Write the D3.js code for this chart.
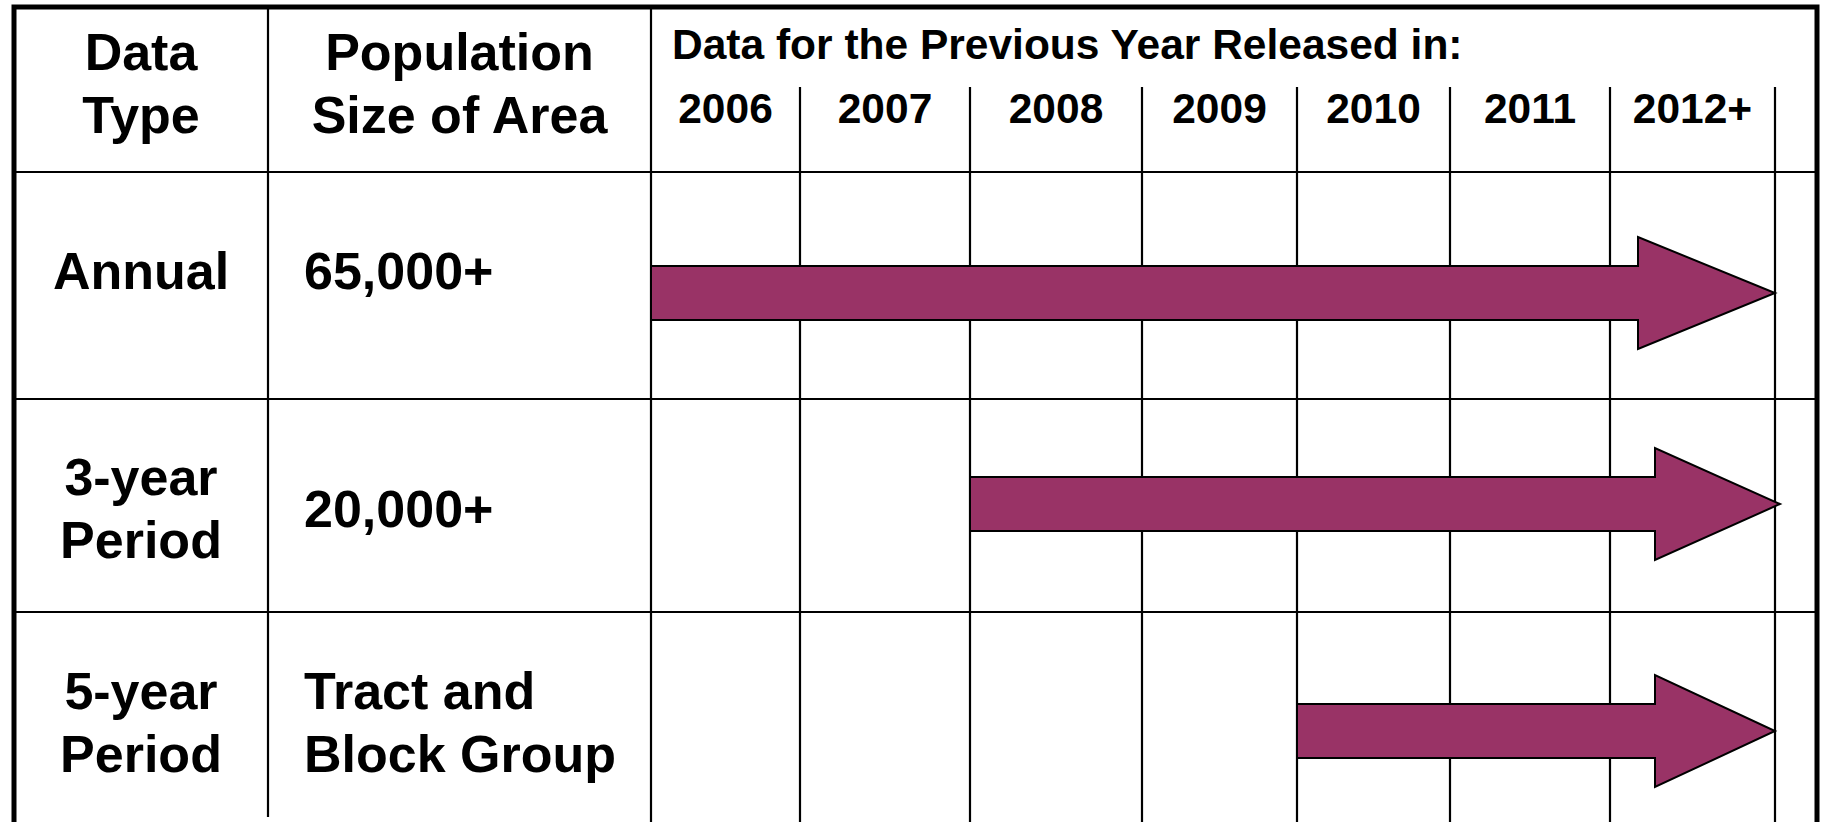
<!DOCTYPE html>
<html>
<head>
<meta charset="utf-8">
<script src="https://cdn.jsdelivr.net/npm/d3@7"></script>
<style>
  body { margin: 0; background: #fff; }
  text { font-family: "Liberation Sans", Arial, sans-serif; font-weight: bold; fill: #000; }
</style>
</head>
<body>
<div id="chart"></div>
<script>
const width = 1822;
const height = 822;

// data
const dataTypes = [["Annual"], ["3-year", "Period"], ["5-year", "Period"]];
const areaSizes = [["65,000+"], ["20,000+"], ["Tract and", "Block Group"]];
const years = ["2006", "2007", "2008", "2009", "2010", "2011", "2012+"];
const firstYear = ["2006", "2008", "2010"];
const headTitle = "Data for the Previous Year Released in:";
const headType = ["Data", "Type"];
const headSize = ["Population", "Size of Area"];

// layout
const leftX = 14, rightX = 1817, topY = 7;
const col1 = 268, col2 = 651;
const colEdges = [651, 800, 970, 1142, 1297, 1450, 1610, 1775];
const rowEdges = [172, 399, 612, 826];
const textShift = [-15.5, 2.5, 3];
const arrowShift = [7.5, -1.5, 12];
const tipShift = [0, 5, 0];
const headLen = [137, 125, 120];
const fs = 52, lh = 63, cap = 0.716 * fs;

const x = d3.scaleLinear().domain(d3.range(years.length + 1)).range(colEdges);
const y = d3.scaleLinear().domain(d3.range(rowEdges.length)).range(rowEdges);

const svg = d3.select("#chart")
  .append("svg")
  .attr("width", width)
  .attr("height", height);

const grid = svg.append("g").attr("stroke", "#000").attr("stroke-width", 2.2);

// horizontal row lines
grid.selectAll("line.row")
  .data(d3.range(rowEdges.length - 1))
  .enter()
  .append("line")
  .attr("x1", leftX).attr("x2", rightX)
  .attr("y1", d => y(d)).attr("y2", d => y(d));

// first two column lines
grid.selectAll("line.col")
  .data([col1, col2])
  .enter()
  .append("line")
  .attr("x1", d => d).attr("x2", d => d)
  .attr("y1", topY).attr("y2", (d, i) => i ? height : 817);

// year column lines
grid.selectAll("line.yr")
  .data(d3.range(1, years.length + 1))
  .enter()
  .append("line")
  .attr("x1", d => x(d)).attr("x2", d => x(d))
  .attr("y1", 87).attr("y2", height);

// outer border (top, left, right)
svg.append("path")
  .attr("d", `M${leftX},${height}V${topY}H${rightX}V${height}`)
  .attr("fill", "none")
  .attr("stroke", "#000")
  .attr("stroke-width", 5);

// multi-line text block
function block(g, lines, cx, baseline, anchor) {
  const t = g.append("text")
    .attr("text-anchor", anchor)
    .attr("font-size", fs);
  lines.forEach((l, i) => {
    t.append("tspan").attr("x", cx).attr("y", baseline + i * lh).text(l);
  });
}

block(svg, headType, (leftX + col1) / 2, 70, "middle");
block(svg, headSize, (col1 + col2) / 2, 70, "middle");

svg.append("text")
  .attr("x", 672).attr("y", 59)
  .attr("font-size", 42.5)
  .text(headTitle);

svg.selectAll("text.year")
  .data(years)
  .enter()
  .append("text")
  .attr("x", (d, i) => (x(i) + x(i + 1)) / 2)
  .attr("y", 123)
  .attr("text-anchor", "middle")
  .attr("font-size", 42.5)
  .text(d => d);

// row labels
dataTypes.forEach((lines, i) => {
  const yc = (y(i) + y(i + 1)) / 2 + textShift[i];
  const base = yc - (lines.length - 1) * lh / 2 + cap / 2;
  block(svg, lines, (leftX + col1) / 2, base, "middle");
  const sz = areaSizes[i];
  const base2 = yc - (sz.length - 1) * lh / 2 + cap / 2;
  block(svg, sz, 304, base2, "start");
});

// arrows
const bodyH = 27, headH = 56;
const arrow = (x0, x1, yc, headL) => {
  const p = d3.path();
  p.moveTo(x0, yc - bodyH);
  p.lineTo(x1 - headL, yc - bodyH);
  p.lineTo(x1 - headL, yc - headH);
  p.lineTo(x1, yc);
  p.lineTo(x1 - headL, yc + headH);
  p.lineTo(x1 - headL, yc + bodyH);
  p.lineTo(x0, yc + bodyH);
  p.closePath();
  return p.toString();
};

svg.selectAll("path.arrow")
  .data(firstYear)
  .enter()
  .append("path")
  .attr("class", "arrow")
  .attr("d", (d, i) => arrow(
    x(years.indexOf(d)),
    x(years.length) + tipShift[i],
    (y(i) + y(i + 1)) / 2 + arrowShift[i],
    headLen[i]))
  .attr("fill", "#993366")
  .attr("stroke", "#000")
  .attr("stroke-width", 2);
</script>
</body>
</html>
